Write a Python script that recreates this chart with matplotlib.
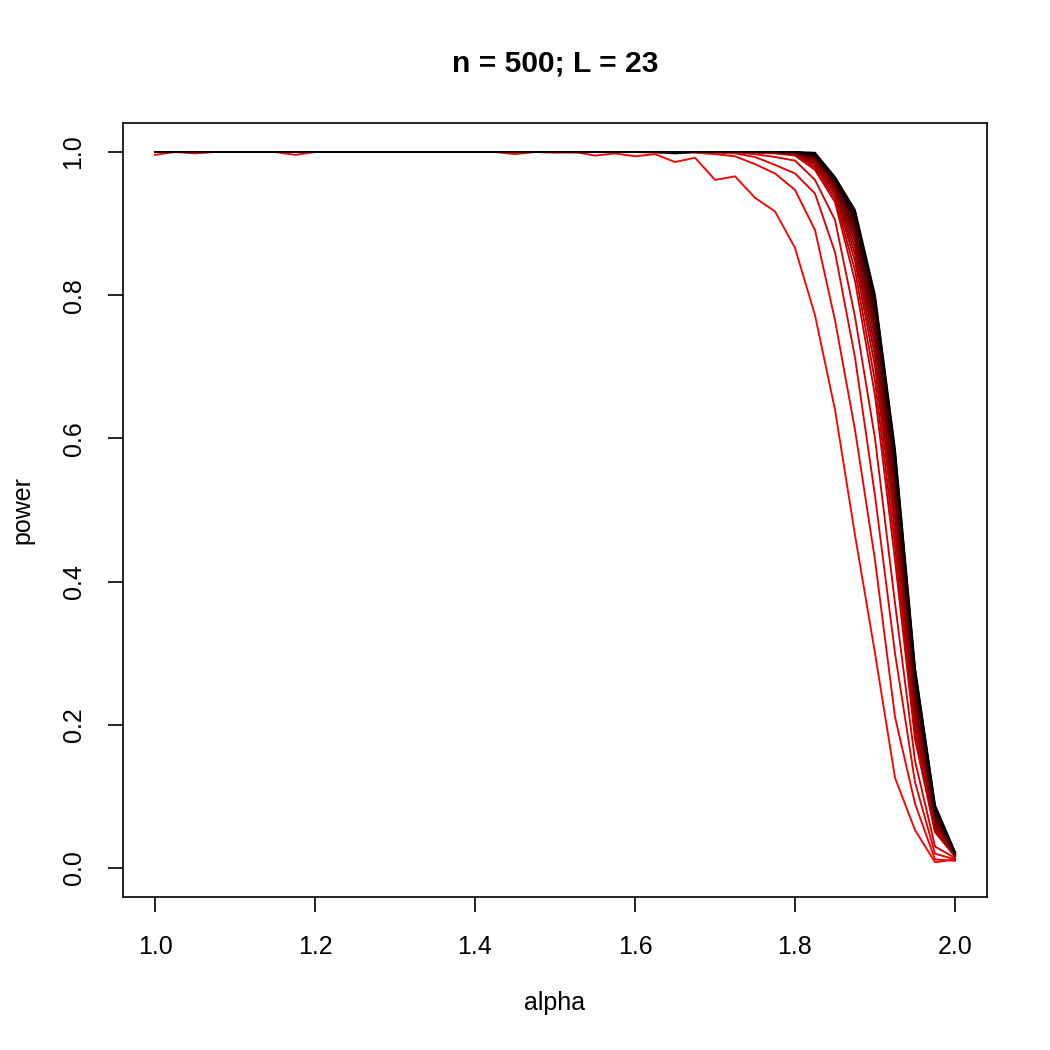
import matplotlib
matplotlib.use("Agg")
import matplotlib.pyplot as plt
import numpy as np

plt.rcParams['font.family'] = ['Liberation Sans', 'DejaVu Sans']

# alpha grid (step 0.025)
alpha = [1.0, 1.025, 1.05, 1.075, 1.1, 1.125, 1.15, 1.175, 1.2, 1.225,
         1.25, 1.275, 1.3, 1.325, 1.35, 1.375, 1.4, 1.425, 1.45, 1.475,
         1.5, 1.525, 1.55, 1.575, 1.6, 1.625, 1.65, 1.675, 1.7, 1.725,
         1.75, 1.775, 1.8, 1.825, 1.85, 1.875, 1.9, 1.925, 1.95, 1.975, 2.0]

# power curves, first one red -> last one black
c01 = [0.996, 1.0, 0.998, 1.0, 1.0, 1.0, 1.0, 0.996, 1.0, 1.0, 1.0, 1.0, 1.0, 1.0, 1.0, 1.0, 1.0, 1.0, 0.997, 1.0,
       0.999, 1.0, 0.995, 0.998, 0.994, 0.997, 0.986, 0.992, 0.961, 0.966, 0.936, 0.917, 0.866, 0.772, 0.640, 0.465,
       0.300, 0.126, 0.053, 0.008, 0.012]
c02 = [1.0, 1.0, 1.0, 1.0, 1.0, 1.0, 1.0, 1.0, 1.0, 1.0, 1.0, 1.0, 1.0, 1.0, 1.0, 1.0, 1.0, 1.0, 1.0, 1.0,
       1.0, 0.999, 1.0, 1.0, 1.0, 0.999, 1.0, 0.999, 0.997, 0.994, 0.983, 0.970, 0.947, 0.891, 0.765, 0.612,
       0.430, 0.211, 0.090, 0.012, 0.010]
c03 = [1.0, 1.0, 1.0, 1.0, 1.0, 1.0, 1.0, 1.0, 1.0, 1.0, 1.0, 1.0, 1.0, 1.0, 1.0, 1.0, 1.0, 1.0, 1.0, 1.0,
       1.0, 1.0, 1.0, 1.0, 1.0, 1.0, 0.999, 1.0, 0.999, 0.998, 0.993, 0.982, 0.970, 0.942, 0.860, 0.713,
       0.520, 0.300, 0.120, 0.020, 0.012]
c04 = [1.0, 1.0, 1.0, 1.0, 1.0, 1.0, 1.0, 1.0, 1.0, 1.0, 1.0, 1.0, 1.0, 1.0, 1.0, 1.0, 1.0, 1.0, 1.0, 1.0,
       1.0, 1.0, 1.0, 1.0, 1.0, 1.0, 1.0, 1.0, 1.0, 0.999, 0.997, 0.993, 0.988, 0.961, 0.905, 0.770,
       0.600, 0.370, 0.150, 0.030, 0.014]
c05 = [1.0, 1.0, 1.0, 1.0, 1.0, 1.0, 1.0, 1.0, 1.0, 1.0, 1.0, 1.0, 1.0, 1.0, 1.0, 1.0, 1.0, 1.0, 1.0, 1.0,
       1.0, 1.0, 1.0, 1.0, 1.0, 1.0, 1.0, 1.0, 1.0, 1.0, 0.999, 0.998, 0.995, 0.975, 0.930, 0.820,
       0.660, 0.430, 0.180, 0.050, 0.016]
c06 = [1.0, 1.0, 1.0, 1.0, 1.0, 1.0, 1.0, 1.0, 1.0, 1.0, 1.0, 1.0, 1.0, 1.0, 1.0, 1.0, 1.0, 1.0, 1.0, 1.0,
       1.0, 1.0, 1.0, 1.0, 1.0, 1.0, 1.0, 1.0, 1.0, 1.0, 1.0, 0.999, 0.996, 0.978, 0.935, 0.835,
       0.680, 0.450, 0.190, 0.052, 0.016]
c07 = [1.0, 1.0, 1.0, 1.0, 1.0, 1.0, 1.0, 1.0, 1.0, 1.0, 1.0, 1.0, 1.0, 1.0, 1.0, 1.0, 1.0, 1.0, 1.0, 1.0,
       1.0, 1.0, 1.0, 1.0, 1.0, 1.0, 1.0, 1.0, 1.0, 1.0, 1.0, 0.999, 0.997, 0.981, 0.940, 0.848,
       0.700, 0.470, 0.200, 0.055, 0.017]
c08 = [1.0, 1.0, 1.0, 1.0, 1.0, 1.0, 1.0, 1.0, 1.0, 1.0, 1.0, 1.0, 1.0, 1.0, 1.0, 1.0, 1.0, 1.0, 1.0, 1.0,
       1.0, 1.0, 1.0, 1.0, 1.0, 1.0, 1.0, 1.0, 1.0, 1.0, 1.0, 1.0, 0.997, 0.984, 0.944, 0.858,
       0.715, 0.487, 0.210, 0.058, 0.017]
c09 = [1.0, 1.0, 1.0, 1.0, 1.0, 1.0, 1.0, 1.0, 1.0, 1.0, 1.0, 1.0, 1.0, 1.0, 1.0, 1.0, 1.0, 1.0, 1.0, 1.0,
       1.0, 1.0, 1.0, 1.0, 1.0, 1.0, 1.0, 1.0, 1.0, 1.0, 1.0, 1.0, 0.998, 0.986, 0.947, 0.867,
       0.728, 0.500, 0.220, 0.061, 0.018]
c10 = [1.0, 1.0, 1.0, 1.0, 1.0, 1.0, 1.0, 1.0, 1.0, 1.0, 1.0, 1.0, 1.0, 1.0, 1.0, 1.0, 1.0, 1.0, 1.0, 1.0,
       1.0, 1.0, 1.0, 1.0, 1.0, 1.0, 1.0, 1.0, 1.0, 1.0, 1.0, 1.0, 0.998, 0.988, 0.950, 0.875,
       0.740, 0.512, 0.228, 0.064, 0.018]
c11 = [1.0, 1.0, 1.0, 1.0, 1.0, 1.0, 1.0, 1.0, 1.0, 1.0, 1.0, 1.0, 1.0, 1.0, 1.0, 1.0, 1.0, 1.0, 1.0, 1.0,
       1.0, 1.0, 1.0, 1.0, 1.0, 1.0, 1.0, 1.0, 1.0, 1.0, 1.0, 1.0, 0.999, 0.990, 0.952, 0.882,
       0.750, 0.523, 0.236, 0.067, 0.019]
c12 = [1.0, 1.0, 1.0, 1.0, 1.0, 1.0, 1.0, 1.0, 1.0, 1.0, 1.0, 1.0, 1.0, 1.0, 1.0, 1.0, 1.0, 1.0, 1.0, 1.0,
       1.0, 1.0, 1.0, 1.0, 1.0, 1.0, 1.0, 1.0, 1.0, 1.0, 1.0, 1.0, 0.999, 0.991, 0.954, 0.888,
       0.758, 0.533, 0.243, 0.070, 0.019]
c13 = [1.0, 1.0, 1.0, 1.0, 1.0, 1.0, 1.0, 1.0, 1.0, 1.0, 1.0, 1.0, 1.0, 1.0, 1.0, 1.0, 1.0, 1.0, 1.0, 1.0,
       1.0, 1.0, 1.0, 1.0, 1.0, 1.0, 1.0, 1.0, 1.0, 1.0, 1.0, 1.0, 0.999, 0.992, 0.956, 0.893,
       0.765, 0.542, 0.249, 0.072, 0.020]
c14 = [1.0, 1.0, 1.0, 1.0, 1.0, 1.0, 1.0, 1.0, 1.0, 1.0, 1.0, 1.0, 1.0, 1.0, 1.0, 1.0, 1.0, 1.0, 1.0, 1.0,
       1.0, 1.0, 1.0, 1.0, 1.0, 1.0, 1.0, 1.0, 1.0, 1.0, 1.0, 1.0, 1.0, 0.993, 0.958, 0.898,
       0.772, 0.550, 0.255, 0.075, 0.020]
c15 = [1.0, 1.0, 1.0, 1.0, 1.0, 1.0, 1.0, 1.0, 1.0, 1.0, 1.0, 1.0, 1.0, 1.0, 1.0, 1.0, 1.0, 1.0, 1.0, 1.0,
       1.0, 1.0, 1.0, 1.0, 1.0, 1.0, 1.0, 1.0, 1.0, 1.0, 1.0, 1.0, 1.0, 0.994, 0.959, 0.902,
       0.778, 0.557, 0.260, 0.077, 0.020]
c16 = [1.0, 1.0, 1.0, 1.0, 1.0, 1.0, 1.0, 1.0, 1.0, 1.0, 1.0, 1.0, 1.0, 1.0, 1.0, 1.0, 1.0, 1.0, 1.0, 1.0,
       1.0, 1.0, 1.0, 1.0, 1.0, 1.0, 1.0, 1.0, 1.0, 1.0, 1.0, 1.0, 1.0, 0.995, 0.960, 0.906,
       0.784, 0.563, 0.265, 0.079, 0.021]
c17 = [1.0, 1.0, 1.0, 1.0, 1.0, 1.0, 1.0, 1.0, 1.0, 1.0, 1.0, 1.0, 1.0, 1.0, 1.0, 1.0, 1.0, 1.0, 1.0, 1.0,
       1.0, 1.0, 1.0, 1.0, 1.0, 1.0, 1.0, 1.0, 1.0, 1.0, 1.0, 1.0, 1.0, 0.996, 0.961, 0.910,
       0.789, 0.569, 0.270, 0.082, 0.021]
c18 = [1.0, 1.0, 1.0, 1.0, 1.0, 1.0, 1.0, 1.0, 1.0, 1.0, 1.0, 1.0, 1.0, 1.0, 1.0, 1.0, 1.0, 1.0, 1.0, 1.0,
       1.0, 1.0, 1.0, 1.0, 1.0, 1.0, 1.0, 1.0, 1.0, 1.0, 1.0, 1.0, 1.0, 0.997, 0.962, 0.913,
       0.793, 0.575, 0.274, 0.084, 0.021]
c19 = [1.0, 1.0, 1.0, 1.0, 1.0, 1.0, 1.0, 1.0, 1.0, 1.0, 1.0, 1.0, 1.0, 1.0, 1.0, 1.0, 1.0, 1.0, 1.0, 1.0,
       1.0, 1.0, 1.0, 1.0, 1.0, 1.0, 1.0, 1.0, 1.0, 1.0, 1.0, 1.0, 1.0, 0.997, 0.963, 0.916,
       0.797, 0.580, 0.277, 0.086, 0.022]
c20 = [1.0, 1.0, 1.0, 1.0, 1.0, 1.0, 1.0, 1.0, 1.0, 1.0, 1.0, 1.0, 1.0, 1.0, 1.0, 1.0, 1.0, 1.0, 1.0, 1.0,
       1.0, 1.0, 1.0, 1.0, 1.0, 1.0, 0.998, 1.0, 1.0, 1.0, 1.0, 1.0, 1.0, 0.999, 0.965, 0.919,
       0.800, 0.585, 0.280, 0.088, 0.022]

curves = [c01, c02, c03, c04, c05, c06, c07, c08, c09, c10,
          c11, c12, c13, c14, c15, c16, c17, c18, c19, c20]
title = "n = 500; L = 23"

# red -> black ramp like colorRampPalette(c("red","black"))
reds = np.linspace(1.0, 0.0, len(curves))

fig = plt.figure(figsize=(7, 7), dpi=150)
ax = fig.add_axes([123/1050, 1 - 897/1050, (987 - 123)/1050, (897 - 123)/1050])
for k in range(len(curves)):
    ax.plot(alpha, curves[k], color=(reds[k], 0, 0), lw=0.9)

ax.set_xlim(0.96, 2.04)
ax.set_ylim(-0.0405, 1.0405)
ax.set_xticks([1.0, 1.2, 1.4, 1.6, 1.8, 2.0])
ax.set_xticklabels(["1.0", "1.2", "1.4", "1.6", "1.8", "2.0"])
ax.set_yticks([0.0, 0.2, 0.4, 0.6, 0.8, 1.0])
ax.set_yticklabels(["0.0", "0.2", "0.4", "0.6", "0.8", "1.0"], rotation=90, va="center")
ax.tick_params(direction="out", length=7, width=0.8, labelsize=12, pad=11)
for s in ax.spines.values():
    s.set_linewidth(0.8)

fig.text(555/1050, 1 - 1003/1050, "alpha", ha="center", va="center", fontsize=12)
fig.text(22/1050, 1 - 510/1050, "power", ha="center", va="center", fontsize=12, rotation=90)
fig.text(555/1050, 1 - 64/1050, title, ha="center", va="center", fontsize=14.4, fontweight="bold")

fig.savefig("out.png", dpi=150)
